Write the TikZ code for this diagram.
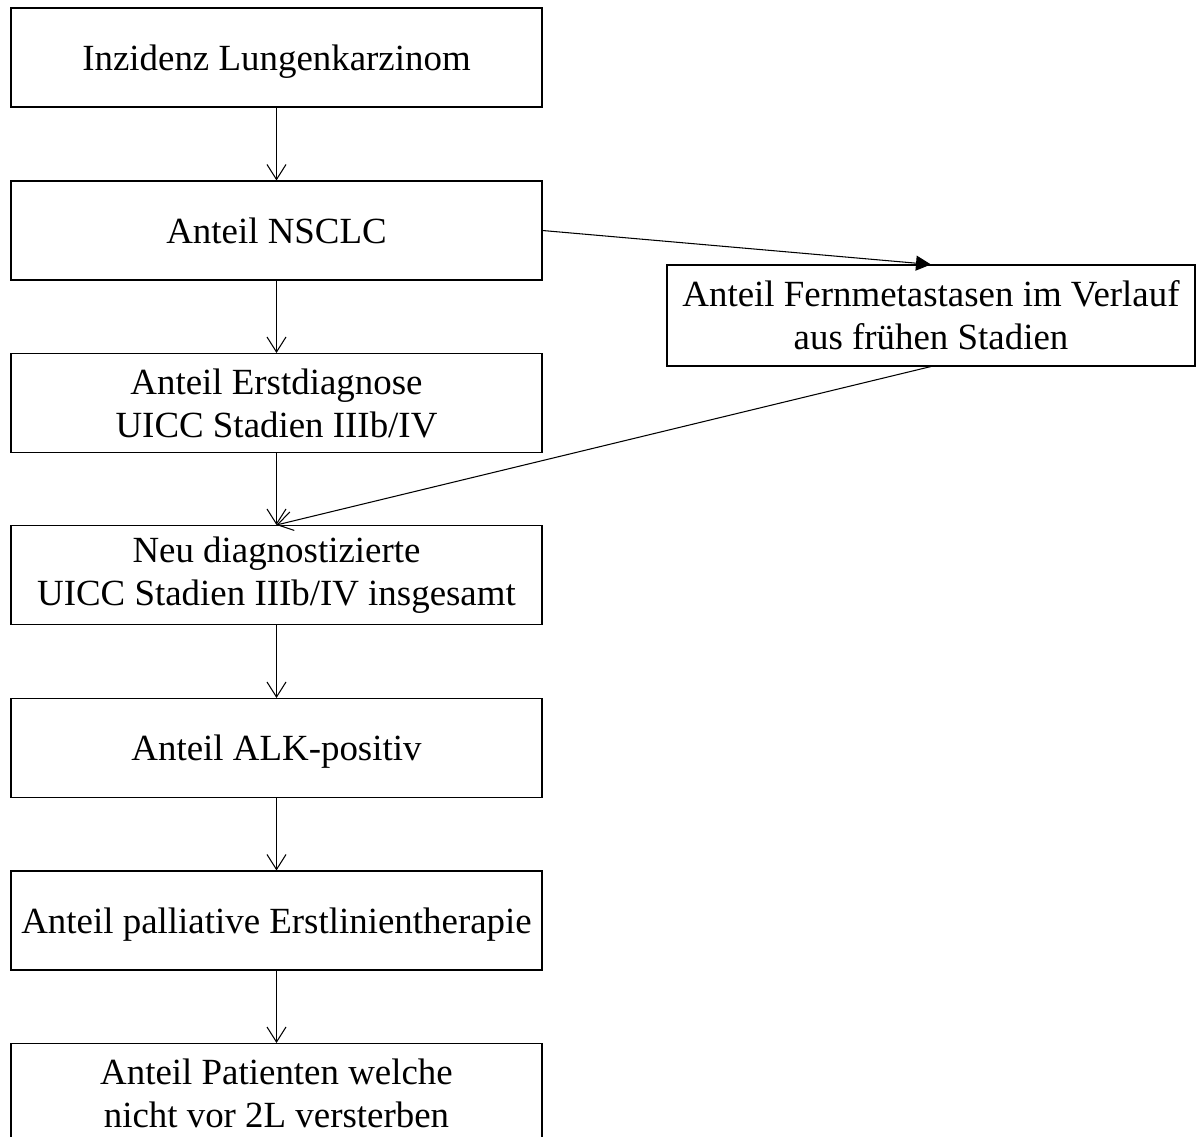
\documentclass[tikz,border=0pt]{standalone}
\usepackage{fontspec}
\setmainfont{Liberation Serif}
\usetikzlibrary{arrows.meta}

\tikzset{
  stepbox/.style={draw, line width=0.6pt, minimum width=10.62cm, minimum height=1.98cm, align=center, inner sep=0pt, font=\fontsize{21}{24.5}\selectfont},
  oneline/.style={text depth=-0.35em},
  vee/.style={-{Straight Barb[length=0.3cm,width=0.38cm]}, line width=0.6pt},
  tri/.style={-{Triangle[length=0.3cm,width=0.3cm]}, line width=0.6pt}
}

\begin{document}
\begin{tikzpicture}

\useasboundingbox (0,0) rectangle (23.92,-22.74);

% Incidence
\node[stepbox, oneline] (inz) at (5.53,-1.15) {Inzidenz Lungenkarzinom};

% NSCLC
\node[stepbox, oneline] (nsclc) at (5.53,-4.61) {Anteil NSCLC};

% Initial diagnosis
\node[stepbox] (erst) at (5.53,-8.06) {Anteil Erstdiagnose\\UICC Stadien IIIb/IV};

% Distant metastases
\node[stepbox, minimum width=10.56cm, minimum height=2.02cm] (fern) at (18.62,-6.31) {Anteil Fernmetastasen im Verlauf\\aus frühen Stadien};

% All new cases
\node[stepbox] (neu) at (5.53,-11.5) {Neu diagnostizierte\\UICC Stadien IIIb/IV insgesamt};

% ALK
\node[stepbox, oneline] (alk) at (5.53,-14.96) {Anteil ALK-positiv};

% First line
\node[stepbox, oneline] (pall) at (5.53,-18.41) {Anteil palliative Erstlinientherapie};

% Second line
\node[stepbox] (pat) at (5.53,-21.86) {Anteil Patienten welche\\nicht vor 2L versterben};

% Arrows
\draw[vee] (inz.south) -- (nsclc.north);
\draw[vee] (nsclc.south) -- (erst.north);
\draw[vee] (erst.south) -- (neu.north);
\draw[vee] (neu.south) -- (alk.north);
\draw[vee] (alk.south) -- (pall.north);
\draw[vee] (pall.south) -- (pat.north);
\draw[tri] (nsclc.east) -- (fern.north);
\draw[vee] (fern.south) -- (neu.north);

\end{tikzpicture}
\end{document}
